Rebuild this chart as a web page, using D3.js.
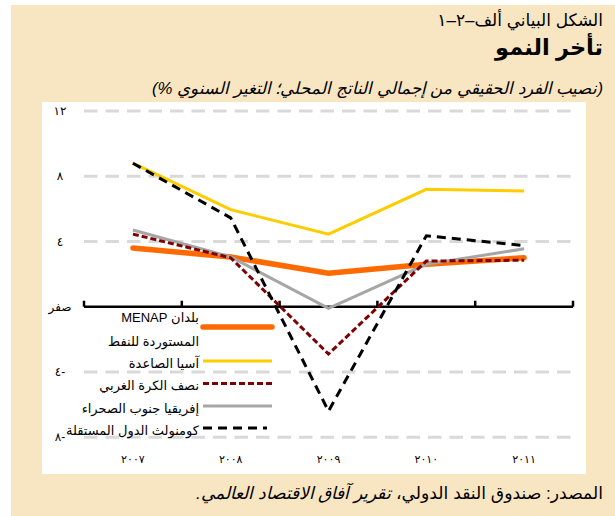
<!DOCTYPE html>
<html lang="ar">
<head>
<meta charset="utf-8">
<script src="https://cdn.jsdelivr.net/npm/d3@7/dist/d3.min.js"></script>
<style>
  html, body { margin: 0; padding: 0; background: #ffffff; }
  svg { display: block; }
  text { font-family: "Liberation Sans", "DejaVu Sans", sans-serif; }
</style>
</head>
<body>
<svg id="chart" width="615" height="516"></svg>
<script>
// Real per capita GDP growth, annual % change
const years = ["٢٠٠٧", "٢٠٠٨", "٢٠٠٩", "٢٠١٠", "٢٠١١"];
const menapImporters = [3.6, 3.05, 2.05, 2.6, 3.0];
const emergingAsia = [8.8, 5.95, 4.45, 7.2, 7.1];
const westernHemisphere = [4.45, 3.0, -2.9, 2.8, 2.85];
const subSaharanAfrica = [4.7, 3.05, -0.1, 2.6, 3.55];
const cis = [8.8, 5.45, -6.4, 4.35, 3.75];

const yTickValues = [-8, -4, 0, 4, 8, 12];
const yTickLabels = ["٨-", "٤-", "صفر", "٤", "٨", "١٢"];

const seriesNames = [
  ["بلدان MENAP", "المستوردة للنفط"],
  ["آسيا الصاعدة"],
  ["نصف الكرة الغربي"],
  ["إفريقيا جنوب الصحراء"],
  ["كومنولث الدول المستقلة"]
];

const titleLine = "الشكل البياني ألف–٢–١";
const titleMain = "تأخر النمو";
const subtitle = "(نصيب الفرد الحقيقي من إجمالي الناتج المحلي؛ التغير السنوي %)";
const sourceLabel = "المصدر: صندوق النقد الدولي، ";
const sourcePublication = "تقرير آفاق الاقتصاد العالمي.";

// Line styles for each series (same order as seriesNames)
const styles = [
  { color: "#ff6a00", width: 5.5, dash: null, cap: "round" },
  { color: "#ffcc00", width: 3, dash: null, cap: "butt" },
  { color: "#7f0000", width: 3, dash: "6,3", cap: "butt" },
  { color: "#a6a6a6", width: 3, dash: null, cap: "butt" },
  { color: "#000000", width: 3, dash: "9,6", cap: "butt" }
];
const seriesValues = [menapImporters, emergingAsia, westernHemisphere, subSaharanAfrica, cis];

const svg = d3.select("#chart");

// Page background and plot panel
svg.append("rect").attr("x", 11).attr("y", 5).attr("width", 604).attr("height", 511).attr("fill", "#f8e5c2");
svg.append("rect").attr("x", 42).attr("y", 102).attr("width", 544).attr("height", 372).attr("fill", "#ffffff");

// Headings (right-to-left)
const rtl = sel => sel.attr("direction", "rtl").attr("text-anchor", "start");
svg.append("text").call(rtl).attr("x", 603).attr("y", 26)
  .attr("font-size", 17).attr("fill", "#000").text(titleLine);
svg.append("text").call(rtl).attr("x", 603).attr("y", 55)
  .attr("font-size", 22.5).attr("font-weight", "bold").attr("fill", "#000").text(titleMain);
svg.append("text").call(rtl).attr("x", 603).attr("y", 94)
  .attr("font-size", 16.8).attr("font-style", "italic").attr("fill", "#000").text(subtitle);

// Scales
const x = d3.scaleBand().domain(years).range([84, 573]).paddingInner(0).paddingOuter(0);
const y = d3.scaleLinear().domain([-8, 12]).range([437.2, 111]);
const cx = d => x(d) + x.bandwidth() / 2;

// Dashed gridlines (all but zero)
svg.append("g").selectAll("line")
  .data(yTickValues.filter(v => v !== 0))
  .join("line")
  .attr("x1", x.range()[0]).attr("x2", x.range()[1])
  .attr("y1", d => y(d)).attr("y2", d => y(d))
  .attr("stroke", "#d9d9d9").attr("stroke-width", 3)
  .attr("stroke-dasharray", "13.5,8");

// Y tick labels
svg.append("g").selectAll("text")
  .data(yTickValues)
  .join("text")
  .attr("x", 60).attr("y", d => y(d))
  .attr("dy", "0.35em")
  .attr("text-anchor", "middle")
  .attr("font-size", 12).attr("fill", "#000")
  .text((d, i) => yTickLabels[i]);

// Zero axis with category boundary ticks
const axisG = svg.append("g").attr("transform", `translate(0,${y(0)})`);
axisG.append("line")
  .attr("x1", x.range()[0]).attr("x2", x.range()[1])
  .attr("stroke", "#000").attr("stroke-width", 2.5);
const boundaries = d3.range(years.length + 1).map(i => x.range()[0] + i * x.step());
axisG.selectAll("line.tick")
  .data(boundaries)
  .join("line").attr("class", "tick")
  .attr("x1", d => d).attr("x2", d => d)
  .attr("y1", 0).attr("y2", -6)
  .attr("stroke", "#000").attr("stroke-width", 2.5);

// X labels
svg.append("g").selectAll("text")
  .data(years)
  .join("text")
  .attr("x", d => cx(d)).attr("y", 459)
  .attr("dy", "0.35em")
  .attr("text-anchor", "middle")
  .attr("font-size", 11).attr("letter-spacing", 3).attr("fill", "#000")
  .text(d => d);

// Series lines
const line = d3.line().x((d, i) => cx(years[i])).y(d => y(d));
const drawOrder = [0, 1, 3, 2, 4];
svg.append("g").selectAll("path")
  .data(drawOrder)
  .join("path")
  .attr("d", k => line(seriesValues[k]))
  .attr("fill", "none")
  .attr("stroke", k => styles[k].color)
  .attr("stroke-width", k => styles[k].width)
  .attr("stroke-dasharray", k => styles[k].dash)
  .attr("stroke-linecap", k => styles[k].cap)
  .attr("stroke-linejoin", "miter");

// Legend
const legendRows = [327, 361, 383.5, 406, 428];
const legend = svg.append("g");
seriesNames.forEach((names, k) => {
  const ly = legendRows[k];
  const swEnd = k === 4 ? 267 : 272;
  legend.append("line")
    .attr("x1", 203).attr("x2", swEnd)
    .attr("y1", ly).attr("y2", ly)
    .attr("stroke", styles[k].color)
    .attr("stroke-width", styles[k].width)
    .attr("stroke-dasharray", styles[k].dash)
    .attr("stroke-linecap", styles[k].cap);
  names.forEach((name, j) => {
    const ty = names.length > 1 ? ly - 10 + j * 24 : ly + 2;
    legend.append("text").call(rtl)
      .attr("x", 199).attr("y", ty).attr("dy", "0.35em")
      .attr("font-size", 13).attr("fill", "#000")
      .text(name);
  });
});

// Source note
const src = svg.append("text").call(rtl).attr("x", 603).attr("y", 499)
  .attr("font-size", 17.2).attr("fill", "#000");
src.append("tspan").text(sourceLabel);
src.append("tspan").attr("font-style", "italic").text(sourcePublication);
</script>
</body>
</html>
